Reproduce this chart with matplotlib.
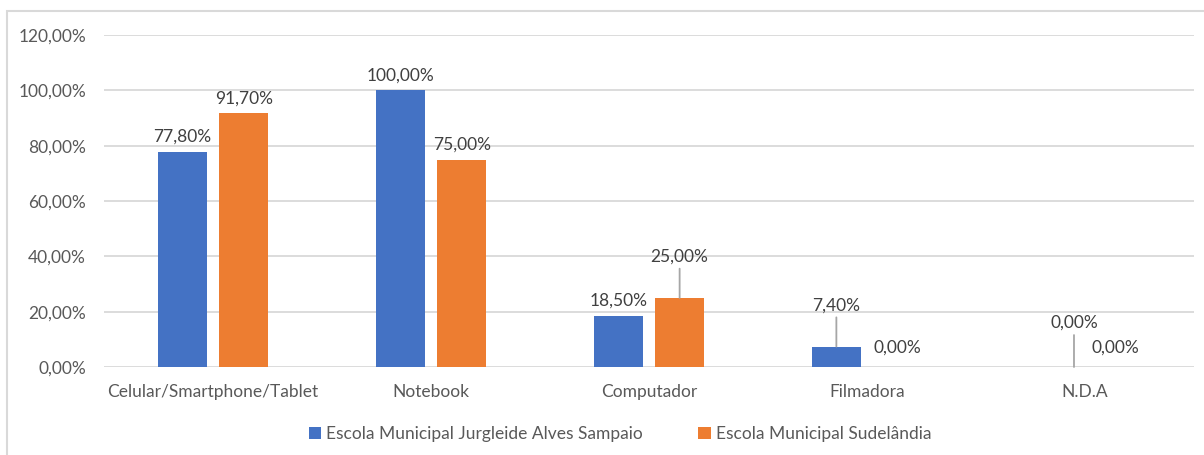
import numpy as np
import matplotlib
matplotlib.use("Agg")
from matplotlib import pyplot as plt
from matplotlib.patches import Rectangle

categories = ["Celular/Smartphone/Tablet", "Notebook", "Computador", "Filmadora", "N.D.A"]
series_names = ["Escola Municipal Jurgleide Alves Sampaio", "Escola Municipal Sudelândia"]
jurgleide = [77.80, 100.00, 18.50, 7.40, 0.00]
sudelandia = [91.70, 75.00, 25.00, 0.00, 0.00]
yticks = [0, 20, 40, 60, 80, 100, 120]

blue = "#4472C4"
orange = "#ED7D31"
txt = "#595959"
lbl = "#404040"
fs = 12.5

plt.rcParams["font.family"] = ["Lato", "DejaVu Sans"]

fig = plt.figure(figsize=(12.04, 4.55), dpi=100)
ax = fig.add_axes([104 / 1204, 1 - 367 / 455, 1090 / 1204, 332 / 455])

# outer chart frame (only left and top edges fall inside the crop)
fig.patches.append(Rectangle((7 / 1204, -0.1), 1.2, 1 - 11 / 455 + 0.1,
                             transform=fig.transFigure, fill=False,
                             edgecolor="#D9D9D9", linewidth=1.5))

x = np.arange(len(categories))
w = 0.225
gap = 0.028
b1 = ax.bar(x - w / 2 - gap, jurgleide, w, color=blue, label=series_names[0], zorder=3)
b2 = ax.bar(x + w / 2 + gap, sudelandia, w, color=orange, label=series_names[1], zorder=3)

ax.set_ylim(0, 120)
ax.set_xlim(-0.5, len(categories) - 0.5)
ax.set_yticks(yticks)
ax.set_yticklabels([f"{v:.2f}".replace(".", ",") + "%" for v in yticks])
ax.set_xticks(x)
ax.set_xticklabels(categories)
ax.tick_params(axis="y", length=0, pad=13, labelsize=fs, labelcolor=txt)
ax.tick_params(axis="x", length=0, pad=12, labelsize=fs, labelcolor=txt)
ax.grid(axis="y", color="#D9D9D9", linewidth=1.3, zorder=0)
for s in ax.spines.values():
    s.set_visible(False)


def fmt(v):
    return f"{v:.2f}".replace(".", ",") + "%"


# data labels; some are lifted with a leader line like in the original
lifted = {(1, 2): 22, (0, 3): 22, (0, 4): 24}
for si, (bars, vals) in enumerate([(b1, jurgleide), (b2, sudelandia)]):
    for ci, (bar, v) in enumerate(zip(bars, vals)):
        cx = bar.get_x() + bar.get_width() / 2
        if ci == 4 and si == 0:
            cx = bar.get_x() + bar.get_width() * 0.9
        lift = lifted.get((si, ci), 0)
        if lift:
            ax.annotate(fmt(v), xy=(cx, v), xytext=(0, lift + 2),
                        textcoords="offset points", ha="center", va="bottom",
                        fontsize=fs, color=lbl,
                        arrowprops=dict(arrowstyle="-", color="#A6A6A6", lw=1.3,
                                        shrinkA=1, shrinkB=0))
        elif v == 0 and si == 1:
            ax.annotate(fmt(v), xy=(cx, v), xytext=(0, 14),
                        textcoords="offset points", ha="center", va="center",
                        fontsize=fs, color=lbl)
        else:
            ax.annotate(fmt(v), xy=(cx, v), xytext=(0, 5),
                        textcoords="offset points", ha="center", va="bottom",
                        fontsize=fs, color=lbl)

fig.legend(handles=[b1, b2], loc="center", bbox_to_anchor=(0.515, 0.046), ncol=2,
           frameon=False, fontsize=fs, labelcolor=txt, handlelength=0.7,
           handleheight=0.7, handletextpad=0.3, columnspacing=3.2)

fig.savefig("out.png", dpi=100)
